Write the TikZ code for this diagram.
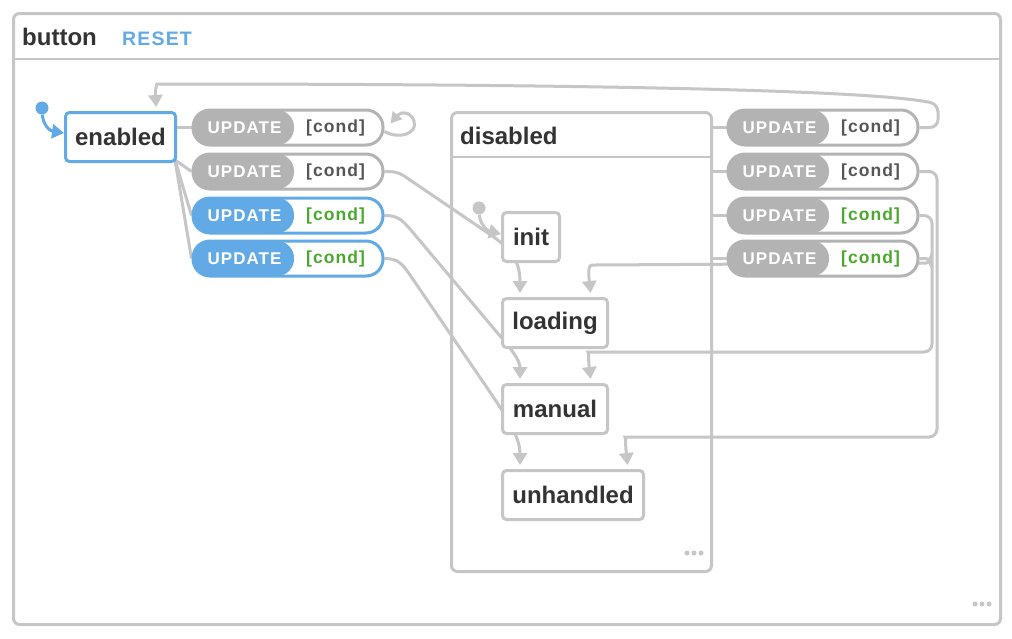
\documentclass[tikz,border=0pt]{standalone}
\usepackage{fontspec}
\setmainfont{Liberation Sans}
\newfontfamily\capsfont[LetterSpace=6]{Liberation Sans}
\usetikzlibrary{arrows.meta}

\definecolor{linegray}{HTML}{C6C6C6}
\definecolor{pillgray}{HTML}{B3B3B3}
\definecolor{xblue}{HTML}{62AAE6}
\definecolor{condgreen}{HTML}{4BA82E}
\definecolor{darktext}{HTML}{333333}
\definecolor{condgray}{HTML}{555555}

\pgfdeclarelayer{boxes}
\pgfdeclarelayer{edges}
\pgfsetlayers{boxes,edges,main}

\tikzset{
    state/.style={draw=linegray, fill=white, line width=3pt, rounded corners=4pt,
        anchor=north west, minimum height=49pt, inner sep=0pt,
        font=\fontsize{24}{27}\selectfont\bfseries, text=darktext},
    compound/.style={draw=linegray, fill=white, line width=3pt, rounded corners=6pt,
        anchor=north west, inner sep=0pt},
    heading/.style={anchor=west, inner sep=0pt, text=darktext,
        font=\fontsize{24}{27}\selectfont\bfseries},
    guard/.style={draw=#1, fill=white, line width=3pt, rounded corners=17pt,
        minimum width=190pt, minimum height=35pt, inner sep=0pt,
        path picture={\fill[#1] (path picture bounding box.south west)
            rectangle ([xshift=101pt]path picture bounding box.north west);}},
    event/.style={text=white, font=\capsfont\fontsize{17}{19}\selectfont\bfseries},
    cond/.style={text=#1, font=\capsfont\fontsize{17.5}{19}\selectfont\bfseries},
    trans/.style={draw=linegray, line width=3pt, shorten >=4pt,
        -{Triangle[width=14pt,length=12pt]}},
    link/.style={draw=linegray, line width=3pt},
    initdot/.style={circle, fill=#1, inner sep=0pt, minimum size=13pt},
}

\begin{document}
\begin{tikzpicture}[x=1pt, y=-1pt]
    \useasboundingbox (0,0) rectangle (1012,638);

    % 外框与 disabled 复合状态
    \begin{pgfonlayer}{boxes}
        \node[compound, minimum width=987pt, minimum height=611pt] (button) at (12,12) {};
        \node[compound, minimum width=260pt, minimum height=459pt] (disabled) at (450,111) {};
        \draw[linegray, line width=1.5pt] (button.west |- 0,59) -- (button.east |- 0,59);
        \draw[linegray, line width=1.5pt] (disabled.west |- 0,157) -- (disabled.east |- 0,157);
    \end{pgfonlayer}

    \node[heading] (buttonlabel) at (22,37) {button};
    \node[anchor=west, inner sep=0pt, text=xblue,
        font=\capsfont\fontsize{19.5}{21}\selectfont\bfseries] (reset) at (122,39) {RESET};
    \node[heading] (disabledlabel) at (460,136) {disabled};

    % 状态
    \node[state, minimum width=110pt, draw=xblue] (enabled) at (64,111) {enabled};
    \node[state, minimum width=57pt] (init) at (501,211) {init};
    \node[state, minimum width=105pt] (loading) at (501,297) {loading};
    \node[state, minimum width=105pt] (manual) at (501,383) {manual};
    \node[state, minimum width=141pt] (unhandled) at (501,469) {unhandled};

    \node[initdot=xblue] (enabledinit) at (42,108) {};
    \node[initdot=linegray] (initinit) at (479,208) {};

    % 转移标签
    \foreach \n/\y/\c/\g in {1/127.5/pillgray/condgray, 2/171.5/pillgray/condgray,
                             3/215.5/xblue/condgreen, 4/258.5/xblue/condgreen} {
        \node[guard=\c] (l\n) at (288,\y) {};
        \node[event] at ([xshift=53pt]l\n.west) {UPDATE};
        \node[cond=\g] at ([xshift=144pt]l\n.west) {[cond]};
    }
    \foreach \n/\y/\g in {1/127.5/condgray, 2/171.5/condgray,
                          3/215.5/condgreen, 4/258.5/condgreen} {
        \node[guard=pillgray] (r\n) at (823,\y) {};
        \node[event] at ([xshift=53pt]r\n.west) {UPDATE};
        \node[cond=\g] at ([xshift=144pt]r\n.west) {[cond]};
    }

    % 连线
    \begin{pgfonlayer}{edges}
        \draw[trans, shorten >=0pt, draw=xblue] (enabledinit) .. controls (43,125) and (50,131) .. ([yshift=4pt]enabled.west);
        \draw[trans, shorten >=0pt] (initinit) .. controls (480,225) and (488,231) .. ([yshift=3pt]init.west);

        \draw[link] (enabled.east |- l1.west) -- (l1.west);
        \foreach \n in {2,3,4}
            \draw[link] ([xshift=-2pt,yshift=3pt]enabled.south east) -- (l\n.west);
        \foreach \n in {1,...,4}
            \draw[link] (disabled.east |- r\n.west) -- (r\n.west);

        \draw[trans, shorten >=0pt, -{Triangle[width=12pt,length=11pt]}] ([yshift=-4pt]l1.east)
            .. controls (400,140) and (418,133) .. (414,121)
            .. controls (411,112) and (401,111) .. ([xshift=6pt,yshift=4pt]l1.east);
        \draw[trans] (l2.east) .. controls (398,171.5) and (400,173) .. (410,180) -- (488,233)
            .. controls (512,249) and (520,262) .. ([xshift=19pt]loading.north west);
        \draw[trans] (l3.east) .. controls (398,215.5) and (402,220) .. (410,229) -- (495,330)
            .. controls (512,350) and (520,360) .. ([xshift=19pt]manual.north west);
        \draw[trans] (l4.east) .. controls (398,258.5) and (402,264) .. (408,272) -- (492,395)
            .. controls (512,425) and (520,440) .. ([xshift=19pt]unhandled.north west);

        \draw[trans, rounded corners=8pt] (r1.east) -- (938,127.5) -- (938,104)
            .. controls (850,86) and (400,84) .. (165,84)
            .. controls (157,84) and (155,88) .. ([xshift=36pt]enabled.north);
        \draw[trans, rounded corners=8pt] (r2.east) -- (937,171.5) -- (937,437) -- (633,437)
            .. controls (626,437) and (625,441) .. ([xshift=-17pt]unhandled.north east);
        \draw[trans, rounded corners=8pt] (r3.east) -- (932,215.5) -- (932,352) -- (596,352)
            .. controls (589,352) and (588,356) .. ([xshift=-18pt]manual.north east);
        \draw[trans, rounded corners=4pt] (r4.east) -- (930,258.5) -- (930,263) -- (596,265)
            .. controls (589,265) and (588,269) .. ([xshift=-18pt]loading.north east);
    \end{pgfonlayer}

    % 右下角的点
    \foreach \dx in {0,7,14} {
        \fill[linegray] (687+\dx,553) circle (2.5pt);
        \fill[linegray] (975+\dx,604) circle (2.5pt);
    }
\end{tikzpicture}
\end{document}
